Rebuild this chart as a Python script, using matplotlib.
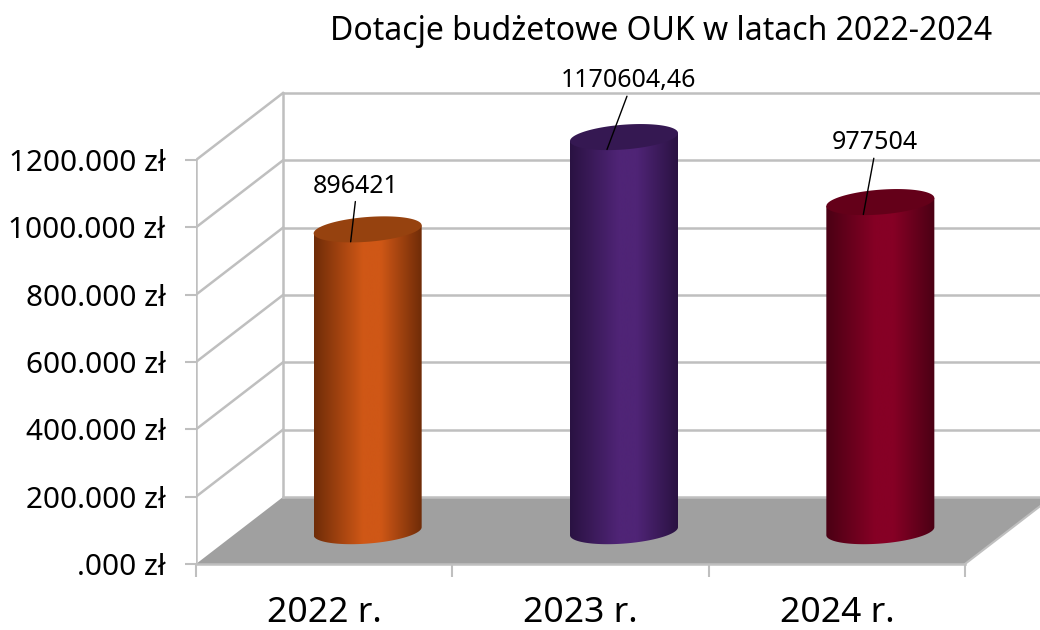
#!/usr/bin/env python3
# -*- coding: utf-8 -*-

import numpy as np
import matplotlib
matplotlib.use("Agg")
import matplotlib.pyplot as plt
from matplotlib.colors import LinearSegmentedColormap
from matplotlib.patches import Polygon

plt.rcParams['font.family'] = ['Noto Sans', 'DejaVu Sans']

# Data
years = ["2022 r.", "2023 r.", "2024 r."]
values = [896421, 1170604.46, 977504]
value_labels = ["896421", "1170604,46", "977504"]
y_ticks = [0, 200, 400, 600, 800, 1000, 1200]
y_tick_labels = [".000 zł", "200.000 zł", "400.000 zł", "600.000 zł",
                 "800.000 zł", "1000.000 zł", "1200.000 zł"]
title = "Dotacje budżetowe OUK w latach 2022-2024"

# edge, centre, edge, top of the cylinder
bar_colors = [
    ("#6f2c08", "#cf5716", "#6f2c08", "#96420f"),
    ("#2a1242", "#4f2476", "#2a1242", "#351852"),
    ("#4a0014", "#860025", "#4a0014", "#640019"),
]
label_offsets = [(5, 43), (21, 56), (11, 59)]

GRID = "#bfbfbf"
FLOOR = "#a0a0a0"

W, H = 1040, 630
LEFT, RIGHT_CAT, BASE, TOP = 196, 965, 564, 160
px_x = (RIGHT_CAT - LEFT) / 3
px_y = (BASE - TOP) / 1200

# 3D look: depth of the chart box, in data units
depth_x = 87 / px_x
depth_y = 67 / px_y

fig = plt.figure(figsize=(W / 100, H / 100), dpi=100)
ax = fig.add_axes([LEFT / W, (H - BASE) / H, (W - LEFT) / W, BASE / H])
x_max = (W - LEFT) / px_x
y_max = BASE / px_y

# floor
ax.add_patch(Polygon([(0, 0), (depth_x, depth_y), (3 + depth_x, depth_y), (3, 0)],
                     closed=True, facecolor=FLOOR, edgecolor="none", zorder=1))
ax.plot([3, 3 + depth_x], [0, depth_y], color=GRID, lw=1.5, zorder=1.5)

# walls and grid
for v in y_ticks:
    if v > 0:
        ax.plot([0, depth_x], [v, v + depth_y], color=GRID, lw=1.8, zorder=1.5)
    ax.plot([depth_x, x_max], [v + depth_y, v + depth_y], color=GRID, lw=1.8, zorder=1.5)
ax.plot([0, 0], [0, 1200], color=GRID, lw=1.8, zorder=1.5)
ax.plot([depth_x, depth_x], [depth_y, 1200 + depth_y], color=GRID, lw=1.8, zorder=1.5)
ax.plot([0, 3], [0, 0], color=GRID, lw=1.8, zorder=1.5, clip_on=False)

# cylinders
half_w = 54 / px_x
ell_b = 12.4 / px_y
ell_k = 4 / px_y
base_y = 0.49 * depth_y
t = np.linspace(0, 2 * np.pi, 181)
t_low = np.linspace(np.pi, 2 * np.pi, 91)

for i, (val, cols) in enumerate(zip(values, bar_colors)):
    cx = i + 0.5 + depth_x / 2
    top = val / 1000 + base_y
    bx = cx + half_w * np.cos(t_low)
    by = base_y + ell_k * np.cos(t_low) + ell_b * np.sin(t_low)
    body = np.column_stack([np.r_[bx, cx + half_w, cx - half_w],
                            np.r_[by, top + ell_k, top - ell_k]])
    clip = Polygon(body, closed=True, facecolor="none", edgecolor="none", zorder=3)
    ax.add_patch(clip)
    cmap = LinearSegmentedColormap.from_list(
        "cyl", [(0, cols[0]), (0.45, cols[1]), (0.62, cols[1]), (1, cols[2])])
    im = ax.imshow(np.linspace(0, 1, 256)[None, :], cmap=cmap, aspect="auto", zorder=3,
                   extent=(cx - half_w, cx + half_w, base_y - 2 * ell_b, top + 2 * ell_b))
    im.set_clip_path(clip)

    tx = cx + half_w * np.cos(t)
    ty = top + ell_k * np.cos(t) + ell_b * np.sin(t)
    ax.fill(tx, ty, color=cols[3], lw=0, zorder=4)

    ax.annotate(value_labels[i],
                xy=(cx - 17 / px_x, top - ell_b),
                xytext=label_offsets[i], textcoords="offset pixels",
                ha="center", va="bottom", fontsize=18, color="black", zorder=6,
                arrowprops=dict(arrowstyle="-", color="black", lw=1,
                                shrinkA=0, shrinkB=0, relpos=(0.5, 0)))

ax.set_xlim(0, x_max)
ax.set_ylim(0, y_max)

# axes
for s in ax.spines.values():
    s.set_visible(False)
ax.patch.set_visible(False)
ax.set_yticks(y_ticks)
ax.set_yticklabels(y_tick_labels, fontsize=21.4)
ax.tick_params(axis="y", length=8, width=1.5, color=GRID, pad=14, labelcolor="black")
ax.set_xticks([0, 1, 2, 3])
ax.set_xticklabels([])
ax.tick_params(axis="x", which="major", length=9, width=1.5, color=GRID)
ax.set_xticks([0.5, 1.5, 2.5], minor=True)
ax.set_xticklabels(years, minor=True, fontsize=25.5)
ax.tick_params(axis="x", which="minor", length=0, pad=23, labelcolor="black")

fig.text(661 / W, 1 - 31 / H, title, ha="center", va="center", fontsize=23, color="black")

fig.savefig("out.png", dpi=100)
plt.close(fig)
